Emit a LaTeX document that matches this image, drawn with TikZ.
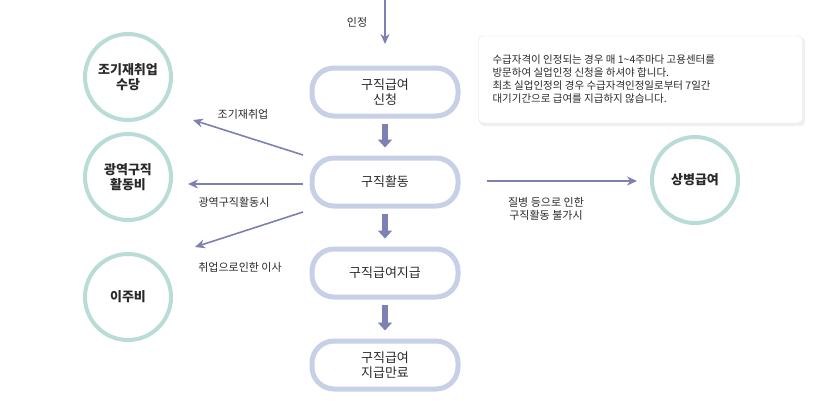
\documentclass[tikz,border=0pt]{standalone}
\usepackage{fontspec}
\setmainfont{Noto Sans CJK KR}
\usetikzlibrary{arrows.meta}
\definecolor{boxc}{HTML}{C8D0E8}
\definecolor{circc}{HTML}{B9DDD6}
\definecolor{arr}{HTML}{7C80B2}
\definecolor{txt}{HTML}{2A2A2A}
\begin{document}
\begin{tikzpicture}[x=1pt,y=-1pt,
  stepbox/.style={draw=boxc,line width=5pt,rounded corners=22pt,minimum width=146pt,minimum height=48pt,align=center,font=\fontsize{13}{15}\selectfont,text=txt},
  circ/.style={draw=circc,line width=4pt,circle,minimum size=86pt,align=center,font=\fontsize{13}{15}\selectfont\bfseries,text=txt},
  thin arr/.style={draw=arr,line width=1.6pt,-{Stealth[length=10pt,width=9pt]}},
  fat arr/.style={draw=arr,line width=6pt,-{Triangle[length=8pt,width=14pt]}},
  lab/.style={font=\fontsize{11}{13}\selectfont,text=txt,align=center}]
\useasboundingbox (0,0) rectangle (829,400);
\node[stepbox] (b1) at (385,92) {구직급여\\신청};
\node[stepbox] (b2) at (385,182) {구직활동};
\node[stepbox] (b3) at (385,273) {구직급여지급};
\node[stepbox] (b4) at (385,365) {구직급여\\지급만료};
\node[circ] (c1) at (128,77) {조기재취업\\수당};
\node[circ] (c2) at (128,177) {광역구직\\활동비};
\node[circ] (c3) at (128,297) {이주비};
\node[circ] (c4) at (695,180) {상병급여};
\coordinate (top) at (385,0);
\coordinate (topend) at (385,44);
\draw[thin arr] (top) -- (topend);
\node[lab] (l0) at (357,22) {인정};
\draw[fat arr] ([yshift=-5pt]b1.south) -- ([yshift=8pt]b2.north);
\draw[fat arr] ([yshift=-5pt]b2.south) -- ([yshift=8pt]b3.north);
\draw[fat arr] ([yshift=-5pt]b3.south) -- ([yshift=8pt]b4.north);
\coordinate (s1) at (303,155); \coordinate (e1) at (193,120);
\coordinate (s2) at (303,184); \coordinate (e2) at (188,184);
\coordinate (s3) at (303,212); \coordinate (e3) at (195,247);
\coordinate (s4) at (487,181); \coordinate (e4) at (637,181);
\draw[thin arr] (s1) -- (e1);
\draw[thin arr] (s2) -- (e2);
\draw[thin arr] (s3) -- (e3);
\draw[thin arr] (s4) -- (e4);
\node[lab] (l1) at (243,114) {조기재취업};
\node[lab] (l2) at (234,202) {광역구직활동시};
\node[lab] (l3) at (240,267) {취업으로인한 이사};
\node[lab,font=\fontsize{11}{12.5}\selectfont] (l4) at (546,209) {질병 등으로 인한\\구직활동 불가시};
\fill[black!6,rounded corners=4pt] (480,38) rectangle (805,126);
\node[draw=black!12,fill=white,rounded corners=4pt,minimum width=324pt,minimum height=87pt] (note) at (640.5,79.5) {};
\node[font=\fontsize{10.5}{13}\selectfont,text=txt,align=left,anchor=west] (nt) at (489,79) {수급자격이 인정되는 경우 매 1\textasciitilde4주마다 고용센터를\\방문하여 실업인정 신청을 하셔야 합니다.\\최초 실업인정의 경우 수급자격인정일로부터 7일간\\대기기간으로 급여를 지급하지 않습니다.};
\end{tikzpicture}
\end{document}
